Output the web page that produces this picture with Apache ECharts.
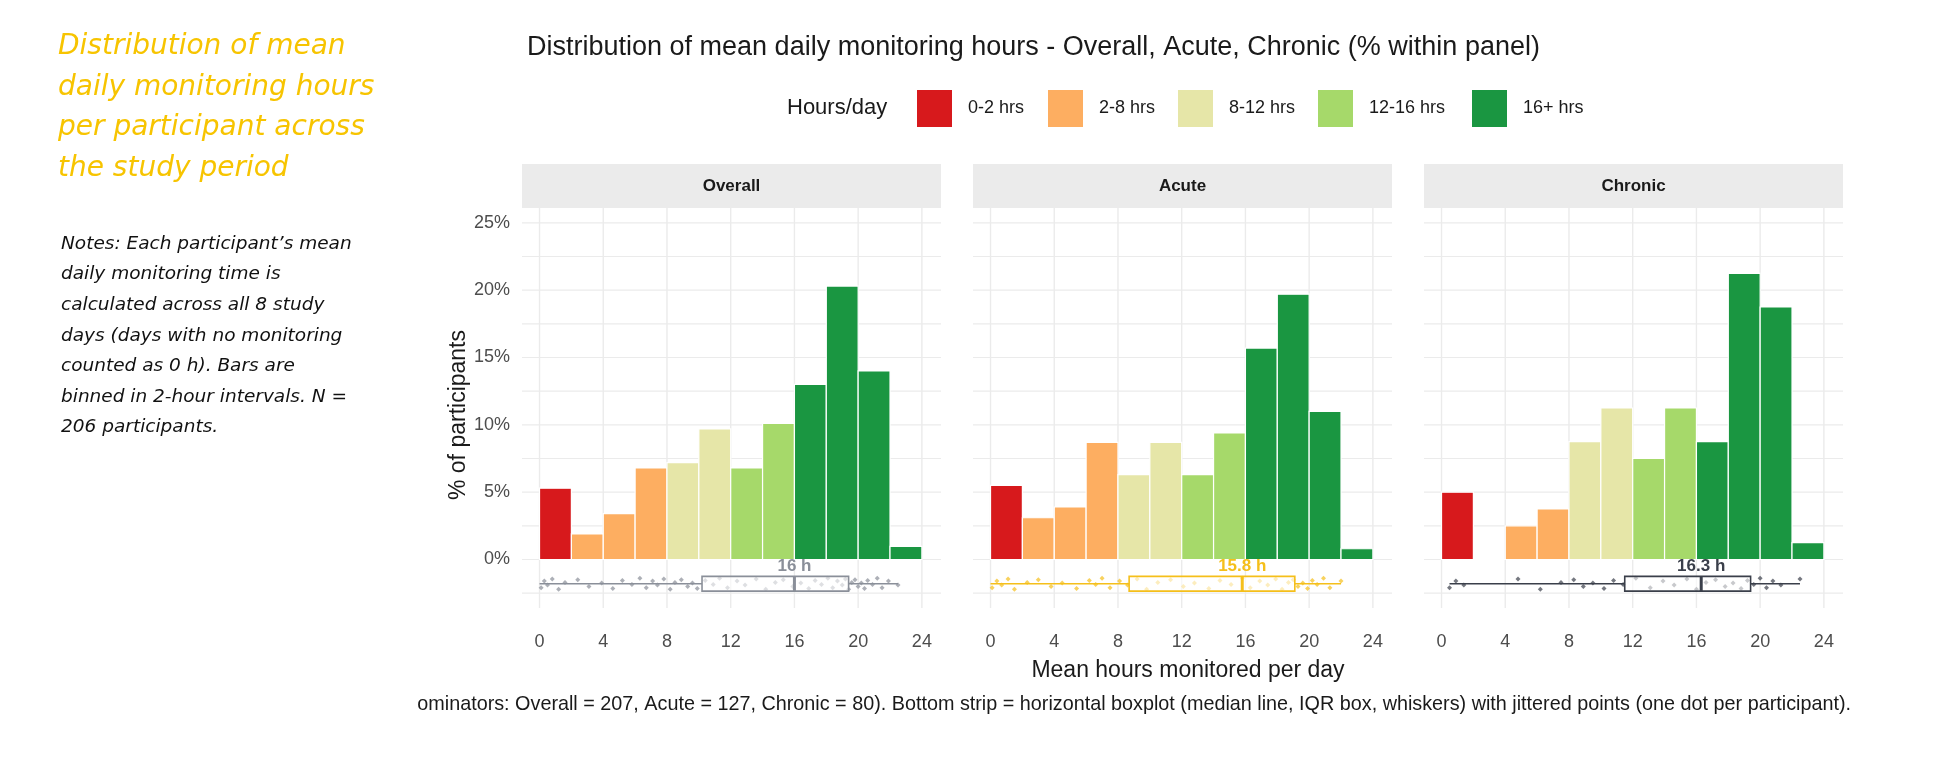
<!DOCTYPE html>
<html><head><meta charset="utf-8">
<script src="https://cdn.jsdelivr.net/npm/echarts@6/dist/echarts.min.js"></script>
<style>html,body{margin:0;padding:0;background:#fff}#c{width:1934px;height:758px}</style>
</head><body><div id="c"></div>
<script>
const panels = ['Overall','Acute','Chronic'];
const binStarts = [0,2,4,6,8,10,12,14,16,18,20,22];
const groupNames = ['0-2 hrs','2-8 hrs','8-12 hrs','12-16 hrs','16+ hrs'];
const groupColors = ['#D7191C','#FDAE61','#E6E6A8','#A6D96A','#1A9641'];
const binGroup = [0,1,1,1,2,2,3,3,4,4,4,4];
const overallPct = [5.3,1.9,3.4,6.8,7.2,9.7,6.8,10.1,13.0,20.3,14.0,0.97];
const acutePct = [5.5,3.1,3.9,8.7,6.3,8.7,6.3,9.4,15.7,19.7,11.0,0.8];
const chronicPct = [5.0,0,2.5,3.75,8.75,11.25,7.5,11.25,8.75,21.25,18.75,1.25];
// boxplot stats: [whiskerLow, q1, median, q3, whiskerHigh]
const overallBox = [0,10.2,16,19.4,22.5];
const acuteBox = [0,8.7,15.8,19.1,22];
const chronicBox = [0.5,11.5,16.3,19.4,22.5];
const medianLabels = ['16 h','15.8 h','16.3 h'];
const overallPts = [0.1,0.3,0.5,0.8,1.2,1.6,2.4,3.1,3.9,4.6,5.2,5.8,6.3,6.7,7.1,7.4,7.8,8.2,8.5,8.9,9.3,9.6,9.9,10.4,10.9,11.3,11.8,12.4,12.9,13.6,14.2,14.8,15.3,15.9,16.4,16.9,17.3,17.7,18.1,18.4,18.7,19.0,19.2,19.4,19.6,19.8,20.0,20.2,20.4,20.6,20.9,21.2,21.5,21.9,22.5];
const acutePts = [0.1,0.4,0.7,1.1,1.5,2.3,3.0,3.8,4.5,5.4,6.2,6.6,7.0,7.5,8.1,8.6,9.2,9.8,10.5,11.3,12.1,12.8,13.7,14.4,15.1,15.8,16.3,16.9,17.4,17.9,18.3,18.7,19.0,19.3,19.6,19.9,20.2,20.5,20.9,21.3,22.0];
const chronicPts = [0.5,0.9,1.4,4.8,6.2,7.5,8.3,8.9,9.5,10.2,10.8,11.4,12.2,13.1,13.9,14.6,15.4,16.0,16.6,17.2,17.8,18.3,18.8,19.2,19.6,20.0,20.4,20.8,21.3,22.5];
const jitter = [-0.3,0.2,-0.1,0.35,-0.4,0.1,0.3,-0.2,0.05,-0.35,0.25,-0.05,0.4];
const xTicks = [0,4,8,12,16,20,24];
const yGridVals = [-2.5,0,2.5,5,7.5,10,12.5,15,17.5,20,22.5,25];
const yLabelVals = [0,5,10,15,20,25];

const pctSets = [overallPct,acutePct,chronicPct];
const boxSets = [overallBox,acuteBox,chronicBox];
const ptSets = [overallPts,acutePts,chronicPts];
const boxColors = ['#8A8F99','#F5BF1A','#3A3F4A'];
const gridLefts = [522,973,1424];
const FONT = 'Liberation Sans, Arial, sans-serif';
const BOXY = -1.8;
const YMIN=-3.6, YMAX=26.1, XMIN=-1.1, XMAX=25.2;
const GRIDC='#EBEBEB';

const grids=[],xAxes=[],yAxes=[],series=[],graphics=[];
panels.forEach((p,i)=>{
  grids.push({left:gridLefts[i],top:208,width:419,height:400});
  xAxes.push({type:'value',gridIndex:i,min:XMIN,max:XMAX,show:false,splitLine:{show:false}});
  yAxes.push({type:'value',gridIndex:i,min:YMIN,max:YMAX,show:false,splitLine:{show:false}});
  // vertical gridlines + x labels
  series.push({type:'custom',xAxisIndex:i,yAxisIndex:i,data:xTicks.map(v=>[v]),z:0,silent:true,
    renderItem:(params,api)=>{
      const t=api.coord([api.value(0),YMAX]),b=api.coord([api.value(0),YMIN]);
      return {type:'group',children:[
        {type:'line',shape:{x1:t[0],y1:t[1],x2:b[0],y2:b[1]},style:{stroke:GRIDC,lineWidth:1.4}},
        {type:'text',style:{text:String(api.value(0)),x:b[0],y:b[1]+34,align:'center',verticalAlign:'middle',font:'18px '+FONT,fill:'#4D4D4D'}}
      ]};
    }});
  // horizontal gridlines
  series.push({type:'custom',xAxisIndex:i,yAxisIndex:i,data:yGridVals.map(v=>[v]),z:0,silent:true,
    renderItem:(params,api)=>{
      const l=api.coord([XMIN,api.value(0)]),r=api.coord([XMAX,api.value(0)]);
      return {type:'line',shape:{x1:l[0],y1:l[1],x2:r[0],y2:r[1]},style:{stroke:GRIDC,lineWidth:1.2}};
    }});
  if(i===0){
    series.push({type:'custom',xAxisIndex:i,yAxisIndex:i,data:yLabelVals.map(v=>[v]),z:0,silent:true,
      renderItem:(params,api)=>{
        const l=api.coord([XMIN,api.value(0)]);
        return {type:'text',style:{text:api.value(0)+'%',x:l[0]-12,y:l[1],align:'right',verticalAlign:'middle',font:'18px '+FONT,fill:'#4D4D4D'}};
      }});
  }
  const barData = binStarts.map((b,k)=>[b,b+2,pctSets[i][k],binGroup[k]]);
  series.push({type:'custom',xAxisIndex:i,yAxisIndex:i,data:barData,z:2,
    renderItem:(params,api)=>{
      const a=api.coord([api.value(0),api.value(2)]),b=api.coord([api.value(1),0]);
      return {type:'rect',shape:{x:a[0],y:a[1],width:b[0]-a[0],height:b[1]-a[1]},
        style:{fill:groupColors[api.value(3)],stroke:'#fff',lineWidth:1.2}};
    }});
  series.push({type:'scatter',xAxisIndex:i,yAxisIndex:i,symbolSize:5,symbol:'diamond',
    data:ptSets[i].map((h,k)=>[h,BOXY+jitter[k%jitter.length]]),
    itemStyle:{color:boxColors[i],opacity:0.7},silent:true,z:3});
  const bx=boxSets[i];
  series.push({type:'custom',xAxisIndex:i,yAxisIndex:i,data:[bx],z:4,
    renderItem:(params,api)=>{
      const c=boxColors[i];
      const w0=api.coord([api.value(0),BOXY]),q1=api.coord([api.value(1),BOXY+0.55]),
        q3=api.coord([api.value(3),BOXY-0.55]),md=api.coord([api.value(2),BOXY]),w1=api.coord([api.value(4),BOXY]);
      const lab=api.coord([api.value(2),BOXY+0.5]);
      return {type:'group',children:[
        {type:'line',shape:{x1:w0[0],y1:w0[1],x2:q1[0],y2:w0[1]},style:{stroke:c,lineWidth:1.3}},
        {type:'line',shape:{x1:q3[0],y1:w1[1],x2:w1[0],y2:w1[1]},style:{stroke:c,lineWidth:1.3}},
        {type:'rect',shape:{x:q1[0],y:q1[1],width:q3[0]-q1[0],height:q3[1]-q1[1]},style:{fill:'rgba(255,255,255,0.6)',stroke:c,lineWidth:1.6}},
        {type:'line',shape:{x1:md[0],y1:q1[1],x2:md[0],y2:q3[1]},style:{stroke:c,lineWidth:3}},
        {type:'text',style:{text:medianLabels[i],x:lab[0],y:lab[1]-2,align:'center',verticalAlign:'bottom',
          font:'bold 17px '+FONT,fill:c}}
      ]};
    }});
  graphics.push({type:'rect',shape:{x:gridLefts[i],y:164,width:419,height:44},style:{fill:'#EBEBEB'}});
  graphics.push({type:'text',style:{text:p,x:gridLefts[i]+209.5,y:186,align:'center',verticalAlign:'middle',
    font:'bold 17px '+FONT,fill:'#1a1a1a'}});
});

graphics.push({type:'text',rotation:Math.PI/2,x:459,y:415,style:{text:'% of participants',align:'center',verticalAlign:'middle',font:'23px '+FONT,fill:'#1a1a1a'}});
graphics.push({type:'text',style:{text:'Mean hours monitored per day',x:1188,y:671,align:'center',verticalAlign:'middle',font:'23px '+FONT,fill:'#1a1a1a'}});

const leftTitle=['Distribution of mean','daily monitoring hours','per participant across','the study period'];
leftTitle.forEach((t,k)=>graphics.push({type:'text',style:{text:t,x:58,y:47+k*40.5,verticalAlign:'middle',
  font:'oblique 28px "DejaVu Sans", sans-serif',fill:'#F7C400'}}));
const notes=['Notes: Each participant’s mean','daily monitoring time is','calculated across all 8 study','days (days with no monitoring','counted as 0 h). Bars are','binned in 2-hour intervals. N =','206 participants.'];
notes.forEach((t,k)=>graphics.push({type:'text',style:{text:t,x:61,y:244+k*30.6,verticalAlign:'middle',
  font:'oblique 18.5px "DejaVu Sans", sans-serif',fill:'#111'}}));
graphics.push({type:'text',style:{text:'Distribution of mean daily monitoring hours - Overall, Acute, Chronic (% within panel)',
  x:527,y:48,verticalAlign:'middle',font:'27px '+FONT,fill:'#1a1a1a'}});
graphics.push({type:'text',style:{text:'Hours/day',x:787,y:108,verticalAlign:'middle',font:'22px '+FONT,fill:'#1a1a1a'}});
const legX=[917,1048,1178,1318,1472];
groupNames.forEach((g,k)=>{
  graphics.push({type:'rect',shape:{x:legX[k],y:90,width:35,height:37},style:{fill:groupColors[k]}});
  graphics.push({type:'text',style:{text:g,x:legX[k]+51,y:108,verticalAlign:'middle',font:'18px '+FONT,fill:'#1a1a1a'}});
});
graphics.push({type:'text',style:{text:'ominators: Overall = 207, Acute = 127, Chronic = 80). Bottom strip = horizontal boxplot (median line, IQR box, whiskers) with jittered points (one dot per participant).',
  x:1851,y:705,align:'right',verticalAlign:'middle',font:'19.8px '+FONT,fill:'#1a1a1a'}});

const chart=echarts.init(document.getElementById('c'));
chart.setOption({animation:false,backgroundColor:'#fff',grid:grids,xAxis:xAxes,yAxis:yAxes,series:series,graphic:graphics});
</script></body></html>
